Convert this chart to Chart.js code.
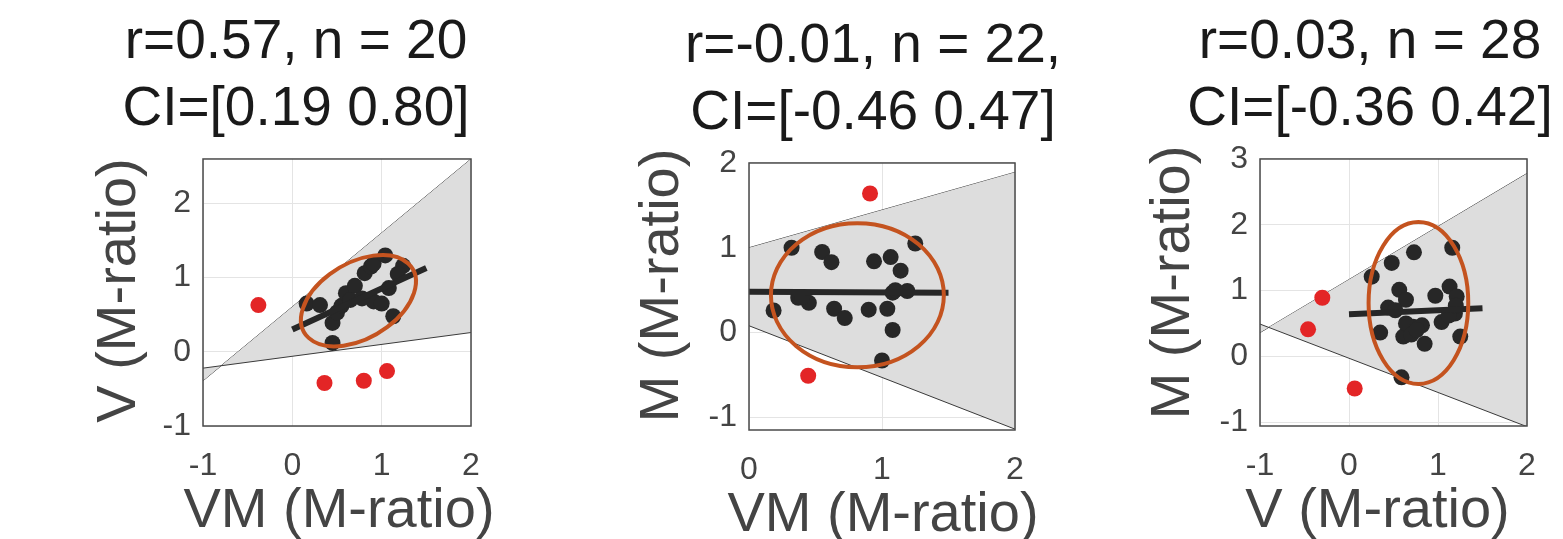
<!DOCTYPE html>
<html>
<head>
<meta charset="utf-8">
<script src="https://cdn.jsdelivr.net/npm/chart.js@4"></script>
<style>
  html, body { margin: 0; padding: 0; background: #fff; overflow: hidden; width: 1563px; height: 539px; }
  canvas { position: absolute; }
</style>
</head>
<body>
<canvas id="c1" width="440" height="539" style="left:76px;top:0px"></canvas>
<canvas id="c2" width="506" height="539" style="left:620px;top:4px"></canvas>
<canvas id="c3" width="500" height="539" style="left:1120px;top:0px"></canvas>
<script>
// ---- panel 1: VM vs V ----
const p1Title = ['r=0.57, n = 20', 'CI=[0.19 0.80]'];
const p1XTicks = [-1, 0, 1, 2];
const p1YTicks = [-1, 0, 1, 2];
const p1BlackX = [0.16, 0.31, 0.45, 0.45, 0.50, 0.55, 0.60, 0.70, 0.81, 0.88, 0.91, 1.04, 1.24, 1.18, 1.08, 0.91, 1.00, 1.13, 0.65, 0.78];
const p1BlackY = [0.65, 0.63, 0.39, 0.12, 0.53, 0.62, 0.79, 0.89, 1.06, 1.15, 1.19, 1.30, 1.16, 1.05, 0.86, 0.68, 0.65, 0.48, 0.70, 0.72];
const p1RedX = [-0.38, 0.36, 0.80, 1.06];
const p1RedY = [0.63, -0.42, -0.39, -0.26];
const p1FitX = [0, 1.5];
const p1FitY = [0.30, 1.13];
const p1BandX = [-1, 2];
const p1BandUpper = [-0.39, 2.6];
const p1BandLower = [-0.22, 0.26];
const p1Ellipse = [0.74, 0.69, 0.75, 0.48, 42]; // centre x, centre y, semi axes, angle

// ---- panel 2: VM vs M ----
const p2Title = ['r=-0.01, n = 22,', 'CI=[-0.46 0.47]'];
const p2XTicks = [0, 1, 2];
const p2YTicks = [-1, 0, 1, 2];
const p2BlackX = [0.32, 0.55, 0.62, 0.94, 1.065, 1.14, 1.25, 0.185, 0.37, 0.45, 0.64, 0.72, 0.90, 1.04, 1.08, 1.19, 1.08, 1.00, 0.40, 1.10];
const p2BlackY = [1.00, 0.95, 0.83, 0.84, 0.89, 0.73, 1.05, 0.26, 0.41, 0.35, 0.28, 0.17, 0.27, 0.28, 0.47, 0.49, 0.03, -0.33, 0.42, 0.50];
const p2RedX = [0.91, 0.445];
const p2RedY = [1.64, -0.51];
const p2FitX = [0, 1.5];
const p2FitY = [0.48, 0.47];
const p2BandX = [0, 2];
const p2BandUpper = [1.0, 1.89];
const p2BandLower = [0.08, -1.14];
const p2Ellipse = [0.815, 0.44, 0.65, 0.85, 0];

// ---- panel 3: V vs M ----
const p3Title = ['r=0.03, n = 28', 'CI=[-0.36 0.42]'];
const p3XTicks = [-1, 0, 1, 2];
const p3YTicks = [-1, 0, 1, 2, 3];
const p3BlackX = [0.255, 0.48, 0.73, 1.16, 0.565, 0.64, 0.44, 0.97, 1.13, 1.21, 0.35, 0.61, 0.72, 0.82, 0.64, 0.85, 1.04, 1.19, 1.25, 0.59, 0.70, 0.76, 1.12, 1.20, 0.52];
const p3BlackY = [1.21, 1.42, 1.58, 1.65, 1.01, 0.86, 0.74, 0.92, 1.06, 0.91, 0.36, 0.30, 0.45, 0.47, 0.50, 0.19, 0.52, 0.65, 0.30, -0.32, 0.33, 0.40, 0.62, 0.77, 0.70];
const p3RedX = [-0.30, -0.46, 0.064];
const p3RedY = [0.89, 0.41, -0.49];
const p3FitX = [0, 1.5];
const p3FitY = [0.64, 0.73];
const p3BandX = [-1, 2];
const p3BandUpper = [0.36, 2.78];
const p3BandLower = [0.49, -1.07];
const p3Ellipse = [0.78, 0.81, 0.56, 1.23, 0];

const FONT = "'Liberation Sans', Arial, Helvetica, sans-serif";
const TEXT = '#444444';

const pts = (xs, ys) => xs.map((x, i) => ({ x: x, y: ys[i] }));

// box round the axes, the orange ellipse (in data units) and the axis labels,
// which are wider than the plot so the scale titles would squash them
const boxAndEllipse = {
  id: 'boxAndEllipse',
  afterDatasetsDraw(chart, args, opts) {
    const { ctx, chartArea: a, scales: { x, y } } = chart;
    const [cx, cy, ra, rb, deg] = opts.ellipse;
    ctx.save();
    ctx.beginPath();
    ctx.rect(a.left, a.top, a.right - a.left, a.bottom - a.top);
    ctx.clip();
    ctx.beginPath();
    ctx.save();
    ctx.translate(x.getPixelForValue(cx), y.getPixelForValue(cy));
    ctx.scale(x.getPixelForValue(1) - x.getPixelForValue(0), y.getPixelForValue(1) - y.getPixelForValue(0));
    ctx.rotate(deg * Math.PI / 180);
    ctx.ellipse(0, 0, ra, rb, 0, 0, 2 * Math.PI);
    ctx.restore();
    ctx.strokeStyle = '#c4531f';
    ctx.lineWidth = 4;
    ctx.stroke();
    ctx.restore();

    ctx.save();
    ctx.strokeStyle = '#4a4a4a';
    ctx.lineWidth = 1.5;
    ctx.strokeRect(a.left, a.top, a.right - a.left, a.bottom - a.top);
    ctx.restore();
  },
  afterDraw(chart, args, opts) {
    const { ctx, chartArea: a } = chart;
    ctx.save();
    ctx.fillStyle = TEXT;
    ctx.font = '56px ' + FONT;
    ctx.textAlign = 'center';
    ctx.textBaseline = 'alphabetic';
    ctx.fillText(opts.xLabel, (a.left + a.right) / 2 + opts.xShift, a.bottom + 101);
    ctx.translate(a.left - opts.yGap, (a.top + a.bottom) / 2 + opts.yShift);
    ctx.rotate(-Math.PI / 2);
    ctx.fillText(opts.yLabel, 0, 0);
    ctx.restore();
  }
};

function makePanel(id, d, lay) {
  new Chart(document.getElementById(id), {
    type: 'scatter',
    data: {
      datasets: [
        { data: pts(d.bandX, d.bandUpper), showLine: true, pointRadius: 0, borderColor: '#3a3a3a', borderWidth: 1, fill: false, order: 5 },
        { data: pts(d.bandX, d.bandLower), showLine: true, pointRadius: 0, borderColor: '#3a3a3a', borderWidth: 1, fill: '-1', backgroundColor: '#dddddd', order: 4 },
        { data: pts(d.redX, d.redY), pointRadius: 8, pointBackgroundColor: '#e32526', pointBorderWidth: 0, order: 3 },
        { data: pts(d.blackX, d.blackY), pointRadius: 8, pointBackgroundColor: '#272727', pointBorderWidth: 0, order: 2 },
        { data: pts(d.fitX, d.fitY), showLine: true, pointRadius: 0, borderColor: '#272727', borderWidth: 6, borderCapStyle: 'butt', order: 1 }
      ]
    },
    options: {
      responsive: false,
      animation: false,
      events: [],
      layout: { padding: 0 },
      plugins: {
        legend: { display: false },
        tooltip: { enabled: false },
        title: {
          display: true,
          text: d.title,
          color: '#1a1a1a',
          font: { family: FONT, size: 55, weight: 'normal', lineHeight: 1.218 },
          padding: { top: 9.5, bottom: 15.5 }
        },
        boxAndEllipse: {
          ellipse: d.ellipse, xLabel: d.xLabel, yLabel: d.yLabel,
          xShift: lay.xShift, yGap: lay.yGap, yShift: lay.yShift
        }
      },
      scales: {
        x: {
          type: 'linear',
          min: d.xMin, max: d.xMax,
          afterBuildTicks: s => { s.ticks = d.xTicks.map(v => ({ value: v })); },
          afterFit: s => { s.height = 113; },
          grid: { color: '#e4e4e4', drawTicks: false },
          border: { display: false },
          ticks: { color: TEXT, font: { family: FONT, size: 32 }, padding: 21, maxRotation: 0, autoSkip: false }
        },
        y: {
          type: 'linear',
          position: 'left',
          min: d.yMin, max: d.yMax,
          afterBuildTicks: s => { s.ticks = d.yTicks.map(v => ({ value: v })); },
          afterFit: s => { s.width = lay.yWidth; },
          grid: { color: '#e4e4e4', drawTicks: false },
          border: { display: false },
          ticks: { color: TEXT, font: { family: FONT, size: 32 }, padding: 12, autoSkip: false }
        },
        pad: {
          type: 'linear',
          position: 'right',
          grid: { display: false },
          border: { display: false },
          ticks: { display: false },
          afterFit: s => { s.width = lay.padRight; }
        }
      }
    },
    plugins: [boxAndEllipse]
  });
}

makePanel('c1', {
  title: p1Title, xLabel: 'VM (M-ratio)', yLabel: 'V (M-ratio)',
  xMin: -1, xMax: 2, yMin: -1, yMax: 2.6, xTicks: p1XTicks, yTicks: p1YTicks,
  blackX: p1BlackX, blackY: p1BlackY, redX: p1RedX, redY: p1RedY,
  fitX: p1FitX, fitY: p1FitY, bandX: p1BandX, bandUpper: p1BandUpper, bandLower: p1BandLower,
  ellipse: p1Ellipse
}, { yWidth: 127, padRight: 45, xShift: 2, yGap: 68, yShift: -2 });

makePanel('c2', {
  title: p2Title, xLabel: 'VM (M-ratio)', yLabel: 'M (M-ratio)',
  xMin: 0, xMax: 2, yMin: -1.15, yMax: 2, xTicks: p2XTicks, yTicks: p2YTicks,
  blackX: p2BlackX, blackY: p2BlackY, redX: p2RedX, redY: p2RedY,
  fitX: p2FitX, fitY: p2FitY, bandX: p2BandX, bandUpper: p2BandUpper, bandLower: p2BandLower,
  ellipse: p2Ellipse
}, { yWidth: 129, padRight: 111, xShift: 1, yGap: 71, yShift: -11 });

makePanel('c3', {
  title: p3Title, xLabel: 'V (M-ratio)', yLabel: 'M (M-ratio)',
  xMin: -1, xMax: 2, yMin: -1.06, yMax: 3, xTicks: p3XTicks, yTicks: p3YTicks,
  blackX: p3BlackX, blackY: p3BlackY, redX: p3RedX, redY: p3RedY,
  fitX: p3FitX, fitY: p3FitY, bandX: p3BandX, bandUpper: p3BandUpper, bandLower: p3BandLower,
  ellipse: p3Ellipse
}, { yWidth: 140, padRight: 93, xShift: -16, yGap: 71, yShift: -10 });
</script>
</body>
</html>
